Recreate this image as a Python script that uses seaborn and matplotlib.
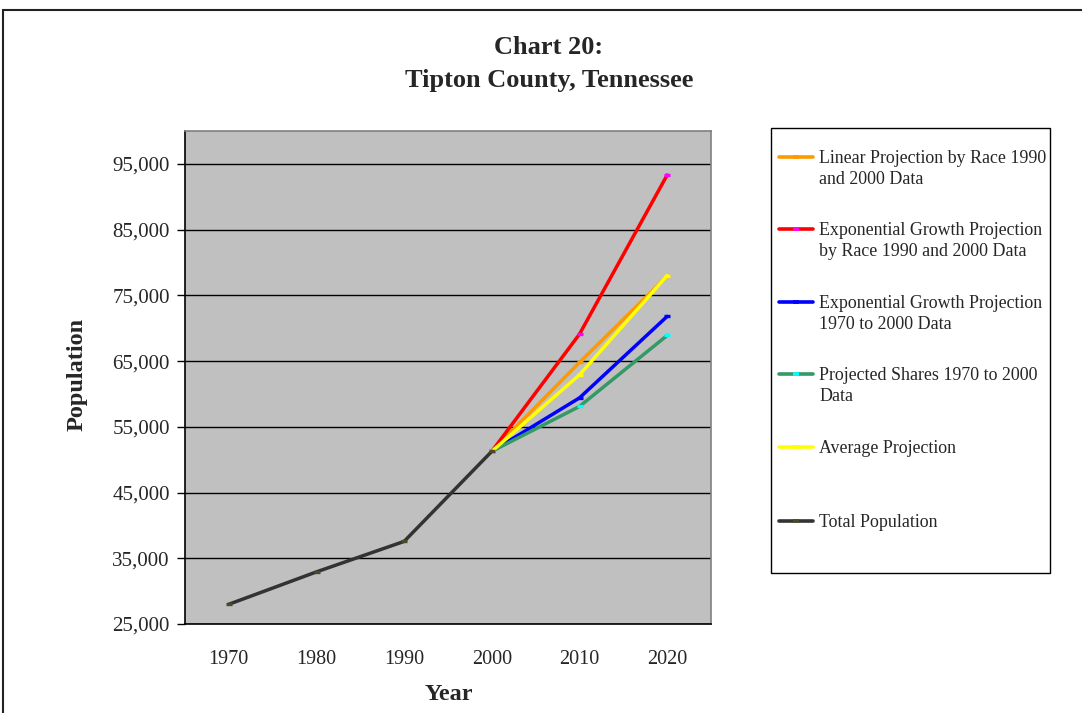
import matplotlib
matplotlib.use("Agg")
import matplotlib.pyplot as plt
from matplotlib.patches import Rectangle
from matplotlib.lines import Line2D
from matplotlib.ticker import FuncFormatter, FixedLocator
import seaborn as sns
import pandas as pd

years = ["1970", "1980", "1990", "2000", "2010", "2020"]
total_population = [28001, 32930, 37568, 51271]
linear_race = [51271, 64800, 77900]
exp_race = [51271, 69100, 93300]
exp_1970 = [51271, 59400, 71800]
proj_shares = [51271, 58100, 68900]
average_proj = [51271, 62900, 78000]

series_names = [
    "Linear Projection by Race 1990\nand 2000 Data",
    "Exponential Growth Projection\nby Race 1990 and 2000 Data",
    "Exponential Growth Projection\n1970 to 2000 Data",
    "Projected Shares 1970 to 2000\nData",
    "Average Projection",
    "Total Population",
]
line_colors = ["#FF9900", "#FF0000", "#0000FF", "#339966", "#FFFF00", "#333333"]
marker_colors = ["#FF9900", "#FF00FF", "#0000FF", "#00FFFF", "#FFFF00", "#4A4A2A"]

proj_idx = [3, 4, 5]
tot_idx = [0, 1, 2, 3]
series_data = [
    (proj_idx, linear_race),
    (proj_idx, exp_race),
    (proj_idx, exp_1970),
    (proj_idx, proj_shares),
    (proj_idx, average_proj),
    (tot_idx, total_population),
]

sns.set_style("white")
plt.rcParams["font.family"] = ["Liberation Serif", "DejaVu Serif"]

W, H = 1082, 713
fig = plt.figure(figsize=(W / 100, H / 100), dpi=100)
ax = fig.add_axes([185 / W, 1 - 624 / H, 526 / W, 493 / H])
ax.set_facecolor("#C0C0C0")

for name, (xs, ys), lc, mc in zip(series_names, series_data, line_colors, marker_colors):
    df = pd.DataFrame({"x": xs, "y": ys})
    n_before = len(ax.lines)
    sns.lineplot(data=df, x="x", y="y", ax=ax, color=lc, linewidth=2.5,
                 marker="_", markersize=5, markeredgewidth=2.4, legend=False, sort=False)
    ln = ax.lines[n_before]
    ln.set_markeredgecolor(mc)
    ln.set_markerfacecolor(mc)

ax.set_xlim(-0.5, 5.5)
ax.set_ylim(25000, 100000)
ax.set_yticks(list(range(25000, 100000, 10000)))
ax.yaxis.set_major_formatter(FuncFormatter(lambda v, p: f"{int(v):,}"))
ax.set_xticks(range(6))
ax.set_xticklabels(years)
ax.xaxis.set_minor_locator(FixedLocator([i - 0.5 for i in range(7)]))
ax.tick_params(axis="x", which="major", length=0, labelsize=14.5, pad=19)
ax.tick_params(axis="x", which="minor", length=6, width=1, color="black", direction="out")
ax.tick_params(axis="y", which="major", length=6, width=1, color="black", direction="out",
               labelsize=15, left=True, pad=5)
ax.grid(axis="y", color="black", linewidth=1)
ax.set_axisbelow(True)
for s in ["left", "bottom"]:
    ax.spines[s].set_color("black")
    ax.spines[s].set_linewidth(1.2)
for s in ["top", "right"]:
    ax.spines[s].set_color("#808080")
    ax.spines[s].set_linewidth(1.2)

ax.set_xlabel("Year", fontsize=17.5, fontweight="bold")
ax.xaxis.set_label_coords((449 - 185) / 526, (624 - 684) / 493)
ax.set_ylabel("Population", fontsize=17.5, fontweight="bold")
ax.yaxis.set_label_coords((88 - 185) / 526, (624 - 374) / 493)

fig.text(549 / W, 1 - 47 / H, "Chart 20:", ha="center", va="center",
         fontsize=19, fontweight="bold")
fig.text(549 / W, 1 - 80 / H, "Tipton County, Tennessee", ha="center", va="center",
         fontsize=19, fontweight="bold")

# legend box (drawn in figure pixel positions)
fig.patches.append(Rectangle((771 / W, 1 - 573 / H), (1050 - 771) / W, (573 - 128) / H,
                             transform=fig.transFigure, facecolor="white",
                             edgecolor="black", linewidth=1))
entry_y = [157, 229, 302, 374, 447, 521]
for name, lc, mc, yy in zip(series_names, line_colors, marker_colors, entry_y):
    fy = 1 - yy / H
    fig.lines.append(Line2D([779 / W, 796 / W, 813 / W], [fy, fy, fy],
                            transform=fig.transFigure, color=lc, linewidth=2.6,
                            marker="_", markersize=5, markeredgewidth=2.6,
                            markeredgecolor=mc, markevery=[1]))
    fig.text(819 / W, 1 - (yy - 7) / H, name, ha="left", va="top",
             fontsize=12.9, linespacing=1.27)

fig.patches.append(Rectangle((0.003, -0.1), 1.2, 1.086, transform=fig.transFigure,
                             fill=False, edgecolor="#222222", linewidth=1.5))

fig.savefig("out.png", dpi=100)
